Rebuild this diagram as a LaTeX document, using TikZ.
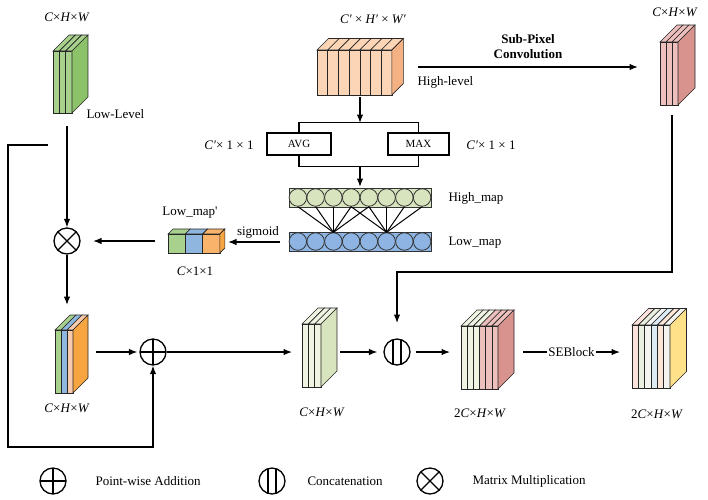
\documentclass[tikz,border=0pt]{standalone}
\usepackage{fontspec}
\setmainfont{Liberation Serif}
\usetikzlibrary{arrows.meta}
\definecolor{gA}{HTML}{A9D18E}
\definecolor{gS}{HTML}{8CC269}
\definecolor{oA}{HTML}{FBD5B5}
\definecolor{oS}{HTML}{F4B183}
\definecolor{pA}{HTML}{EDBFBD}
\definecolor{pS}{HTML}{D8938F}
\definecolor{bA}{HTML}{8FB6DE}
\definecolor{peA}{HTML}{F8CBAD}
\definecolor{orA}{HTML}{F9B36B}
\definecolor{orS}{HTML}{F7A541}
\definecolor{lgA}{HTML}{EEF3E2}
\definecolor{lgS}{HTML}{D8E4BD}
\definecolor{fwa}{HTML}{FBE3DC}
\definecolor{fwb}{HTML}{E9F0DF}
\definecolor{fwc}{HTML}{F4F4F0}
\definecolor{fwd}{HTML}{DCEAF4}
\definecolor{fwe}{HTML}{FCE6D8}
\definecolor{yS}{HTML}{FFE18A}
\definecolor{hm}{HTML}{D7E4BD}
\definecolor{lm}{HTML}{8DB4E2}
\tikzset{
  every node/.style={font=\fontsize{13}{15}\selectfont},
  cub/.style={draw=black!85, line width=0.6pt},
  ln/.style={line width=1.2pt},
  arr/.style={line width=1.2pt, -{Latex[length=8.5pt,width=6.5pt]}},
  opbase/.style={circle, draw, line width=1.3pt, minimum size=26pt, inner sep=0pt},
  opplus/.style={opbase, path picture={\draw[line width=1.3pt] (path picture bounding box.north)--(path picture bounding box.south) (path picture bounding box.west)--(path picture bounding box.east);}},
  optimes/.style={opbase, path picture={\draw[line width=1.3pt] (path picture bounding box.north west)--(path picture bounding box.south east) (path picture bounding box.north east)--(path picture bounding box.south west);}},
  opcat/.style={opbase, path picture={\draw[line width=1.3pt] ([xshift=-4pt]path picture bounding box.north)--([xshift=-4pt]path picture bounding box.south) ([xshift=4pt]path picture bounding box.north)--([xshift=4pt]path picture bounding box.south);}},
  boxnode/.style={draw, line width=1.3pt, inner sep=0pt, minimum height=22pt, font=\fontsize{11}{13}\selectfont},
  hcirc/.style={circle, draw=black!80, fill=hm, line width=0.8pt, minimum size=17.5pt, inner sep=0pt},
  lcirc/.style={circle, draw=black!80, fill=lm, line width=0.8pt, minimum size=17.5pt, inner sep=0pt},
  netline/.style={line width=1pt},
}
% #1 x0, #2 y0 (top), #3 slab width, #4 height, #5 depth, #6 colours, #7 side colour
\newcommand\cubo[7]{%
  \foreach \cc [count=\ii from 0] in {#6}{%
    \pgfmathsetmacro\xa{#1+\ii*#3}%
    \pgfmathsetmacro\xb{#1+(\ii+1)*#3}%
    \filldraw[cub,fill=\cc] (\xa,#2) -- (\xb,#2) -- (\xb+#5,#2-#5) -- (\xa+#5,#2-#5) -- cycle;
    \filldraw[cub,fill=\cc] (\xa,#2) rectangle (\xb,#2+#4);
    \global\let\lastx\xb
  }%
  \filldraw[cub,fill=#7] (\lastx,#2) -- (\lastx+#5,#2-#5) -- (\lastx+#5,#2+#4-#5) -- (\lastx,#2+#4) -- cycle;
}
\begin{document}
\begin{tikzpicture}[x=1pt,y=-1pt]
\useasboundingbox (0,0) rectangle (708,499);

% ---------- cuboids ----------
\cubo{53}{51}{6.33}{62}{16}{gA,gA,gA}{gS}
\cubo{317}{50}{10.7}{45}{11.5}{oA,oA,oA,oA,oA,oA,oA}{oS}
\cubo{660}{42}{6}{63}{17}{pA,pA,pA}{pS}
\cubo{168}{234}{17.3}{19}{5}{gA,bA,orA}{orS}
\cubo{55}{330}{6}{63}{15}{gA,bA,peA}{orS}
\cubo{302}{324}{6.33}{63}{16}{lgA,lgA,lgA}{lgS}
\cubo{461}{326}{6.17}{63}{16}{lgA,lgA,lgA,pA,pA,pA}{pS}
\cubo{632}{325}{6.33}{63}{16.5}{fwa,fwb,fwc,fwd,fwe,fwc}{yS}

% ---------- labels ----------
\node (lblA) at (67,17) {\textit{C}×\textit{H}×\textit{W}};
\node[anchor=west] (lowlev) at (83,114) {Low-Level};
\node (lblB) at (373,19) {\textit{C′} × \textit{H′} × \textit{W′}};
\node[anchor=west] (highlev) at (414,82) {High-level};
\node[font=\fontsize{13}{15}\selectfont\bfseries, align=center] (subpix) at (528,47) {Sub-Pixel\\Convolution};
\node (lblC) at (675,12) {\textit{C}×\textit{H}×\textit{W}};
\node (lblD) at (229,145) {\textit{C′}× 1 × 1};
\node (lblE) at (491,145) {\textit{C′}× 1 × 1};
\node[anchor=west] (hmtxt) at (445,198) {High\_map};
\node[anchor=west] (lmtxt) at (445,243) {Low\_map};
\node (sigtxt) at (258,232) {sigmoid};
\node (lmp) at (190,213) {Low\_map\textquotesingle};
\node (lblF) at (195,271) {\textit{C}×1×1};
\node (lblG) at (67,408) {\textit{C}×\textit{H}×\textit{W}};
\node (lblH) at (322,412) {\textit{C}×\textit{H}×\textit{W}};
\node (lblI) at (480,413) {2\textit{C}×\textit{H}×\textit{W}};
\node (lblJ) at (657,414) {2\textit{C}×\textit{H}×\textit{W}};

% ---------- pooling boxes ----------
\node[boxnode, minimum width=64pt] (avg) at (299,144) {AVG};
\node[boxnode, minimum width=61pt] (mx) at (418.5,144) {MAX};

% ---------- maps ----------
\node[draw=black!80, fill=hm, line width=0.8pt, minimum width=142pt, minimum height=19pt, inner sep=0pt] (hmap) at (360,197.5) {};
\node[draw=black!80, fill=lm, line width=0.8pt, minimum width=142pt, minimum height=19pt, inner sep=0pt] (lmap) at (360,241.5) {};
\foreach \i in {1,...,8}{
  \node[hcirc] (h\i) at ({289+17.75*(\i-0.5)},197.5) {};
  \node[lcirc] (l\i) at ({289+17.75*(\i-0.5)},241.5) {};
}
\foreach \i in {1,...,5} \draw[netline] (h\i.south) -- (l3.north);
\foreach \i in {4,...,8} \draw[netline] (h\i.south) -- (l6.north);

% ---------- operators ----------
\node[optimes] (mul) at (67,241) {};
\node[opplus] (add) at (153,352) {};
\node[opcat] (cat) at (397,352) {};

% ---------- coordinates ----------
\coordinate (gbot) at (67,126);
\coordinate (sk0) at (48,145);
\coordinate (sk1) at (8,145);
\coordinate (sk2) at (8,447);
\coordinate (lltop) at (67,305);
\coordinate (llright) at (96,352);
\coordinate (cleft) at (292,352);
\coordinate (cright) at (340,352);
\coordinate (rbot) at (672,115);
\coordinate (rturn) at (672,272);
\coordinate (catin) at (397,323);
\coordinate (twoleft) at (450,352);
\coordinate (seA) at (523,352);
\coordinate (seB) at (620,352);
\coordinate (obot) at (360,97);
\coordinate (obrk) at (360,123);
\coordinate (bbrk) at (360,166);
\coordinate (hmin) at (360,187);
\coordinate (spA) at (418,67);
\coordinate (spB) at (638,67);
\coordinate (sgA) at (280,242);
\coordinate (sgB) at (228,242);
\coordinate (lmpout) at (155,241);
\coordinate (mulin) at (93,241);

% ---------- connectors ----------
\draw[arr] (gbot) -- (mul.north);
\draw[arr] (sk0) -- (sk1) -- (sk2) -| (add.south);
\draw[arr] (mul.south) -- (lltop);
\draw[arr] (llright) -- ([xshift=-2pt]add.west);
\draw[arr] (add.east) -- (cleft);
\draw[arr] (cright) -- ([xshift=-6pt]cat.west);
\draw[arr] (rbot) -- (rturn) -| (catin);
\draw[arr] ([xshift=5pt]cat.east) -- (twoleft);
\draw[arr] (seA) -- node[fill=white, inner sep=1pt] (setxt) {SEBlock} (seB);
\draw[arr] (obot) -- (obrk);
\draw[ln] (avg.north) -- ++(0,-10) -| (mx.north);
\draw[ln] (avg.south) -- ++(0,11) -| (mx.south);
\draw[arr] (bbrk) -- (hmin);
\draw[arr] (spA) -- (spB);
\draw[arr] (sgA) -- (sgB);
\draw[arr] (lmpout) -- (mulin);

% ---------- legend ----------
\node[opplus] (lg1) at (53,481) {};
\node[anchor=west] (lg1t) at (92,481) {Point-wise Addition};
\node[opcat] (lg2) at (272,481) {};
\node[anchor=west] (lg2t) at (304,481) {Concatenation};
\node[optimes] (lg3) at (430,481) {};
\node[anchor=west] (lg3t) at (469,481) {Matrix Multiplication};
\end{tikzpicture}
\end{document}
